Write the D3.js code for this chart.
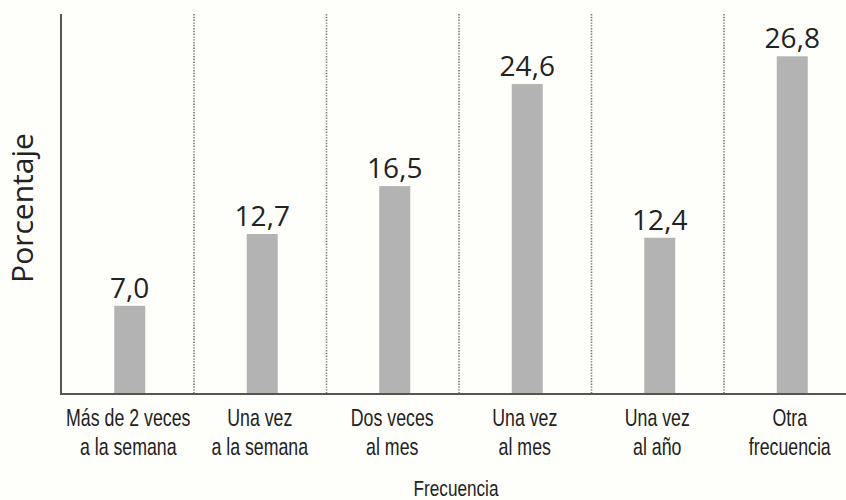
<!DOCTYPE html>
<html>
<head>
<meta charset="utf-8">
<script src="https://cdn.jsdelivr.net/npm/d3@7"></script>
<style>
  html, body { margin: 0; padding: 0; background: #fefefa; }
  svg { display: block; }
</style>
</head>
<body>
<svg id="chart" width="846" height="500"></svg>
<script>
const categories = [
  ["Más de 2 veces", "a la semana"],
  ["Una vez", "a la semana"],
  ["Dos veces", "al mes"],
  ["Una vez", "al mes"],
  ["Una vez", "al año"],
  ["Otra", "frecuencia"]
];
const values = [7.0, 12.7, 16.5, 24.6, 12.4, 26.8];
const valueLabels = ["7,0", "12,7", "16,5", "24,6", "12,4", "26,8"];
const xTitle = "Frecuencia";
const yTitle = "Porcentaje";

(function () {
const svg = d3.select("#chart");
const mLeft = 61, mRight = 856, mTop = 14, mBottom = 394;
const FONT = "'Open Sans', sans-serif";
const CFONT = "'Liberation Sans', Arial, sans-serif";

const keys = categories.map((c, i) => i);
const x = d3.scaleBand().domain(keys).range([mLeft, mRight]).paddingInner(0).paddingOuter(0);
const y = d3.scaleLinear().domain([0, 30]).range([mBottom, 16]);

const barW = 31;
const barOffset = 2.5;

// dotted separators
svg.append("g").selectAll("line")
  .data(keys.slice(1))
  .join("line")
  .attr("x1", d => x(d) + 0.5).attr("x2", d => x(d) + 0.5)
  .attr("y1", mTop).attr("y2", mBottom)
  .attr("stroke", "#7a7a7a")
  .attr("stroke-width", 1.6)
  .attr("stroke-dasharray", "1.4,1.4");

// bars
svg.append("g").selectAll("rect")
  .data(values)
  .join("rect")
  .attr("x", (d, i) => x(i) + x.bandwidth() / 2 + barOffset - barW / 2)
  .attr("width", barW)
  .attr("y", d => y(d))
  .attr("height", d => y(0) - y(d))
  .attr("fill", "#b3b3b3");

// value labels
svg.append("g").selectAll("text")
  .data(values)
  .join("text")
  .attr("x", (d, i) => x(i) + x.bandwidth() / 2 + barOffset)
  .attr("y", d => y(d) - 8)
  .attr("text-anchor", "middle")
  .attr("font-family", FONT)
  .attr("font-size", 28)
  .attr("fill", "#222")
  .text((d, i) => valueLabels[i]);

// axes lines
svg.append("line")
  .attr("x1", mLeft).attr("x2", mLeft)
  .attr("y1", mTop).attr("y2", mBottom + 1)
  .attr("stroke", "#555").attr("stroke-width", 2);
svg.append("line")
  .attr("x1", mLeft - 1).attr("x2", 846)
  .attr("y1", mBottom).attr("y2", mBottom)
  .attr("stroke", "#555").attr("stroke-width", 2);

// category labels (condensed via horizontal scale), one text per category
const catT = svg.append("g").selectAll("text")
  .data(categories)
  .join("text")
  .attr("transform", (d, i) => `translate(${x(i) + x.bandwidth() / 2 + (i === 0 ? 1 : 0)},426) scale(0.74,1)`)
  .attr("text-anchor", "middle")
  .attr("font-family", CFONT)
  .attr("font-size", 24)
  .attr("fill", "#222");
catT.selectAll("tspan")
  .data(d => d)
  .join("tspan")
  .attr("x", 0)
  .attr("y", (d, j) => j * 29)
  .text(d => d);

// x title
svg.append("text")
  .attr("transform", `translate(456,496) scale(0.78,1)`)
  .attr("text-anchor", "middle")
  .attr("font-family", CFONT)
  .attr("font-size", 22)
  .attr("fill", "#222")
  .text(xTitle);

// y title
svg.append("text")
  .attr("transform", `translate(33,208) rotate(-90)`)
  .attr("text-anchor", "middle")
  .attr("font-family", FONT)
  .attr("font-size", 30)
  .attr("fill", "#222")
  .text(yTitle);
})();
</script>
</body>
</html>
